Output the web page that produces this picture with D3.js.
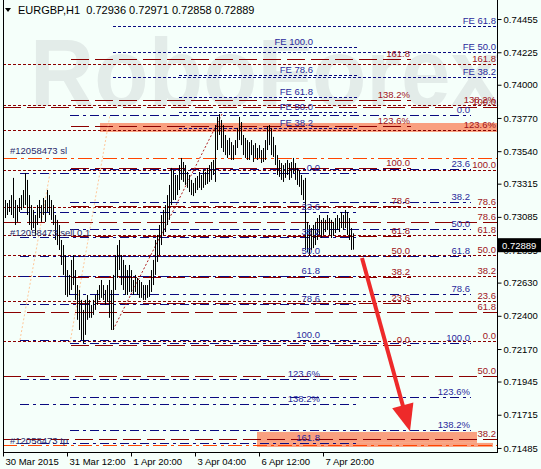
<!DOCTYPE html>
<html><head><meta charset="utf-8">
<script src="https://cdn.jsdelivr.net/npm/d3@7"></script>
<style>body{margin:0;background:#f5fffa;}svg{display:block;}text{font-family:"Liberation Sans",Arial,sans-serif;}</style>
</head><body><svg id="c" width="541" height="469"></svg>
<script>
// ---------- data ----------
const titleText = "EURGBP,H1  0.72936 0.72971 0.72858 0.72889";
const lastPrice = 0.72889;
const timeTickBars = [0, 32, 64, 96, 128, 160];
const timeTickLabels = ["30 Mar 2015", "31 Mar 12:00", "1 Apr 20:00", "3 Apr 04:00", "6 Apr 12:00", "7 Apr 20:00"];
const priceTicks = [0.74455, 0.74225, 0.74000, 0.73770, 0.73540, 0.73315, 0.73085, 0.72855, 0.72630, 0.72400, 0.72170, 0.71945, 0.71715, 0.71485];

const barHigh = [0.73167,0.73202,0.73181,0.73202,0.73236,0.73355,0.73202,0.73167,0.73216,0.73236,0.73271,0.73389,0.73341,0.73236,0.73167,0.73133,0.73098,0.73167,0.73202,0.73167,
0.73216,0.73202,0.73271,0.73236,0.73202,0.73167,0.73098,0.73064,0.73029,0.72925,0.72890,0.72821,0.72717,0.72683,0.72787,0.72821,0.72717,0.72613,0.72579,0.72510,
0.72441,0.72510,0.72544,0.72510,0.72475,0.72510,0.72544,0.72579,0.72613,0.72648,0.72613,0.72579,0.72613,0.72648,0.72579,0.72683,0.72821,0.72890,0.72925,0.72821,
0.72787,0.72752,0.72717,0.72752,0.72717,0.72648,0.72683,0.72662,0.72648,0.72634,0.72613,0.72613,0.72613,0.72648,0.72717,0.72787,0.72925,0.72960,0.73029,0.73098,
0.73133,0.73167,0.73236,0.73306,0.73424,0.73410,0.73375,0.73375,0.73444,0.73493,0.73465,0.73444,0.73396,0.73375,0.73341,0.73320,0.73355,0.73368,0.73396,0.73375,
0.73410,0.73396,0.73424,0.73444,0.73465,0.73479,0.73721,0.73777,0.73797,0.73756,0.73721,0.73652,0.73617,0.73632,0.73603,0.73582,0.73617,0.73701,0.73777,0.73742,
0.73652,0.73632,0.73617,0.73603,0.73617,0.73582,0.73596,0.73562,0.73582,0.73548,0.73562,0.73617,0.73714,0.73721,0.73701,0.73639,0.73582,0.73513,0.73479,0.73458,
0.73444,0.73458,0.73479,0.73458,0.73465,0.73493,0.73458,0.73424,0.73410,0.73375,0.73341,0.73355,0.73050,0.73029,0.73008,0.73029,0.73050,0.73077,0.73098,0.73064,
0.73077,0.73064,0.73098,0.73077,0.73064,0.73050,0.73077,0.73098,0.73077,0.73119,0.73098,0.73133,0.73119,0.73077,0.73008,0.72971];
const barLow = [0.73098,0.73077,0.73098,0.73119,0.73098,0.73077,0.73029,0.73050,0.73119,0.73133,0.73147,0.73167,0.73098,0.73029,0.72994,0.73008,0.72960,0.73029,0.73077,0.73050,
0.73098,0.73050,0.73119,0.73098,0.73064,0.73029,0.72925,0.72890,0.72856,0.72752,0.72683,0.72544,0.72531,0.72544,0.72579,0.72613,0.72510,0.72372,0.72302,0.72233,
0.72212,0.72268,0.72372,0.72386,0.72386,0.72406,0.72441,0.72475,0.72510,0.72524,0.72510,0.72475,0.72496,0.72386,0.72302,0.72302,0.72579,0.72662,0.72717,0.72613,
0.72579,0.72544,0.72544,0.72565,0.72565,0.72544,0.72565,0.72544,0.72524,0.72524,0.72510,0.72510,0.72524,0.72531,0.72565,0.72613,0.72683,0.72773,0.72821,0.72890,
0.72960,0.72980,0.73029,0.73064,0.73167,0.73202,0.73202,0.73236,0.73271,0.73341,0.73327,0.73306,0.73286,0.73257,0.73236,0.73229,0.73250,0.73271,0.73286,0.73271,
0.73286,0.73306,0.73313,0.73327,0.73341,0.73375,0.73327,0.73548,0.73652,0.73562,0.73534,0.73513,0.73493,0.73513,0.73479,0.73479,0.73513,0.73562,0.73617,0.73582,
0.73513,0.73493,0.73479,0.73479,0.73513,0.73465,0.73493,0.73479,0.73493,0.73458,0.73465,0.73479,0.73548,0.73582,0.73513,0.73500,0.73444,0.73375,0.73362,0.73341,
0.73327,0.73355,0.73375,0.73341,0.73355,0.73389,0.73341,0.73306,0.73293,0.73236,0.73202,0.72856,0.72842,0.72821,0.72856,0.72869,0.72890,0.72925,0.72960,0.72939,
0.72960,0.72980,0.72994,0.72960,0.72939,0.72953,0.72973,0.72994,0.72980,0.73008,0.72994,0.73008,0.72960,0.72925,0.72856,0.72858];

// Fibonacci retracement grids (level %, anchor prices, time anchors in bar index)
const fibLevels = [0, 23.6, 38.2, 50, 61.8, 78.6, 100, 123.6, 138.2, 161.8];
const fibLabels = ["0.0","23.6","38.2","50.0","61.8","78.6","100.0","123.6%","138.2%","161.8"];
const nav1Prices = [0.73389, 0.72233]; const nav1Bars = [8.5, 178, 158.5]; const nav1Count = 10;
const nav2Prices = [0.73790, 0.72212]; const nav2Bars = [33.5, 234, 233.5]; const nav2Count = 9;
const redAPrices = [0.72198, 0.73424]; const redABars = [34, 204, 203.5]; const redACount = 10;
const redCPrices = [0.72226, 0.73410]; const redCBars = [0, 247, 246.5]; const redCCount = 10;
const redDLevels = [38.2, 50, 61.8, 78.6, 100];
const redDLabels = ["38.2","50.0","61.8","78.6","100.0"];
const redDPrices = [0.70126, 0.73846]; const redDBars = [0, 247, 246.5];
// Fibonacci expansions
const feRightLevels = [38.2, 50, 61.8]; const feRightPrices = [0.73480, 0.74980]; const feRightBars = [55, 247, 246.5];
const feMidLevels = [38.2, 50, 61.8, 78.6, 100]; const feMidPrices = [0.73355, 0.74261]; const feMidBars = [88, 178, 155];
// zones
const zoneTop = [[48.5, 247, 0.73735, 0.73673]];
const zoneBottom = [[127, 237, 0.71596, 0.71520], [127, 245, 0.71520, 0.71492]];
// order lines
const orderSL = 0.73493, orderTP = 0.71506;
const orderLabels = ["#12058473 sl", "#12058473 sell 0.1", "#12058473 tp"];
const orderLabelPrices = [0.73548, 0.72980, 0.71540];
// trend lines [bar1, price1, bar2, price2]
const peachLines = [[8.5, 0.72233, 23.5, 0.73389], [33.5, 0.72212, 53.5, 0.73790]];
const redTrend = [[55, 0.72302, 109.5, 0.73797]];
// forecast arrow
const arrowFrom = [179.5, 0.72800], arrowTo = [203.5, 0.71600];

// ---------- drawing ----------
const svg = d3.select("#c");
const x = d3.scaleLinear().domain([0, 247]).range([3, 497]);
const y = d3.scaleLinear().domain([0.71457, 0.74566]).range([452, 3]);
const yr = p => Math.round(y(p)) + 0.5;

const NAVY = "#0a0a80", DRED = "#8b0000", OR = "#ff4500";
const NAVYT = "#2a2a9c", DREDT = "#a0141a";

svg.append("rect").attr("width", 541).attr("height", 469).attr("fill", "#f5fffa");

// watermark
svg.append("text").attr("x", 30).attr("y", 106).attr("textLength", 470).attr("lengthAdjust", "spacingAndGlyphs")
  .attr("font-size", 96).attr("font-weight", "bold").attr("fill", "#e3ece9").text("RoboForex");

// zones
function zone(z) {
  z.forEach(r => {
    svg.append("rect").attr("x", x(r[0])).attr("y", y(r[2])).attr("width", x(r[1]) - x(r[0]))
      .attr("height", y(r[3]) - y(r[2])).attr("fill", "#f9a07f");
  });
}
zone(zoneTop); zone(zoneBottom);

const gL = svg.append("g");
const gT = svg.append("g");
function hline(p, b0, b1, color, dash) {
  gL.append("line").attr("x1", x(b0)).attr("x2", x(b1)).attr("y1", yr(p)).attr("y2", yr(p))
    .attr("stroke", color).attr("stroke-width", 1).attr("stroke-dasharray", dash);
}
function label(p, b, txt, color) {
  gT.append("text").attr("x", x(b)).attr("y", yr(p) - 3).attr("text-anchor", "end")
    .attr("font-size", 9.5).attr("fill", color).text(txt);
}
function grid(levels, labels, prices, bars, color, tcolor, dash) {
  levels.forEach((lv, i) => {
    const p = prices[0] + (prices[1] - prices[0]) * lv / 100;
    hline(p, bars[0], bars[1], color, dash);
    label(p, bars[2], labels[i], tcolor);
  });
}
const DOT = "3,2", LONG = "18,6", DD = "9,4,3,4";
grid(fibLevels.slice(0, redCCount), fibLabels, redCPrices, redCBars, DRED, DREDT, DOT);
grid(redDLevels, redDLabels, redDPrices, redDBars, DRED, DREDT, LONG);
grid(fibLevels.slice(0, redACount), fibLabels, redAPrices, redABars, DRED, DREDT, LONG);
grid(fibLevels.slice(0, nav1Count), fibLabels, nav1Prices, nav1Bars, NAVY, NAVYT, DD);
grid(fibLevels.slice(0, nav2Count), fibLabels, nav2Prices, nav2Bars, NAVY, NAVYT, DD);
grid(feRightLevels, feRightLevels.map(v => "FE " + v.toFixed(1)), feRightPrices, feRightBars, NAVY, NAVYT, DOT);
grid(feMidLevels, feMidLevels.map(v => "FE " + v.toFixed(1)), feMidPrices, feMidBars, NAVY, NAVYT, DOT);

// order lines
hline(orderSL, 0, 247, OR, "14,4,3,4");
hline(orderTP, 0, 247, OR, "14,4,3,4");
orderLabels.forEach((t, i) => {
  gT.append("text").attr("x", x(3.5)).attr("y", yr(orderLabelPrices[i]) + 3).attr("font-size", 9.5)
    .attr("fill", "#2a2a6c").text(t);
});

// trend lines
peachLines.forEach(l => gL.append("line").attr("x1", x(l[0])).attr("y1", y(l[1])).attr("x2", x(l[2])).attr("y2", y(l[3]))
  .attr("stroke", "#ffc89a").attr("stroke-dasharray", "2,2"));
redTrend.forEach(l => gL.append("line").attr("x1", x(l[0])).attr("y1", y(l[1])).attr("x2", x(l[2])).attr("y2", y(l[3]))
  .attr("stroke", "#b22222").attr("stroke-dasharray", "2,2"));

// bars
svg.append("g").selectAll("line").data(barHigh).join("line")
  .attr("x1", (d, i) => Math.round(x(i)) + 0.5).attr("x2", (d, i) => Math.round(x(i)) + 0.5)
  .attr("y1", d => y(d)).attr("y2", (d, i) => y(barLow[i]))
  .attr("stroke", "#000").attr("stroke-width", 1);

svg.node().appendChild(gT.node());

// arrow
const ax0 = x(arrowFrom[0]), ay0 = y(arrowFrom[1]), ax1 = x(arrowTo[0]), ay1 = y(arrowTo[1]);
const len = Math.hypot(ax1 - ax0, ay1 - ay0), ux = (ax1 - ax0) / len, uy = (ay1 - ay0) / len;
const hl = 27, hw = 11;
const bx = ax1 - ux * hl, by = ay1 - uy * hl;
svg.append("line").attr("x1", ax0).attr("y1", ay0).attr("x2", bx + ux * 3).attr("y2", by + uy * 3)
  .attr("stroke", "#ee2a2a").attr("stroke-width", 4);
svg.append("path").attr("d", `M${ax1},${ay1}L${bx - uy * hw},${by + ux * hw}L${bx + uy * hw},${by - ux * hw}Z`).attr("fill", "#ee2a2a");

// frame
svg.append("line").attr("x1", 3.5).attr("x2", 3.5).attr("y1", 0).attr("y2", 452).attr("stroke", "#000");
// axes
const yAxis = svg.append("g").attr("transform", "translate(497.5,0)")
  .call(d3.axisRight(y).tickValues(priceTicks).tickFormat(d3.format(".5f")).tickSize(4).tickPadding(2));
yAxis.select(".domain").attr("d", "M0,0V452.5");
yAxis.selectAll("text").attr("font-size", 9.5).attr("font-family", "Liberation Sans, Arial, sans-serif");
const xAxis = svg.append("g").attr("transform", "translate(0,452.5)")
  .call(d3.axisBottom(x).tickValues(timeTickBars).tickFormat((d, i) => timeTickLabels[i]).tickSize(4).tickPadding(2));
xAxis.select(".domain").attr("d", "M3,0H498");
xAxis.selectAll("text").attr("font-size", 9.5).attr("text-anchor", "start").attr("dx", 2)
  .attr("font-family", "Liberation Sans, Arial, sans-serif");

// current price box
svg.append("rect").attr("x", 498).attr("y", y(lastPrice) - 7).attr("width", 43).attr("height", 14).attr("fill", "#000");
svg.append("text").attr("x", 502).attr("y", y(lastPrice) + 3.5).attr("font-size", 9.5).attr("fill", "#fff").text(lastPrice.toFixed(5));

// title
svg.append("path").attr("d", "M5,8L11,8L8,12Z").attr("fill", "#000");
svg.append("text").attr("x", 18).attr("y", 14).attr("font-size", 11).attr("fill", "#000").attr("xml:space", "preserve").text(titleText);
</script></body></html>
